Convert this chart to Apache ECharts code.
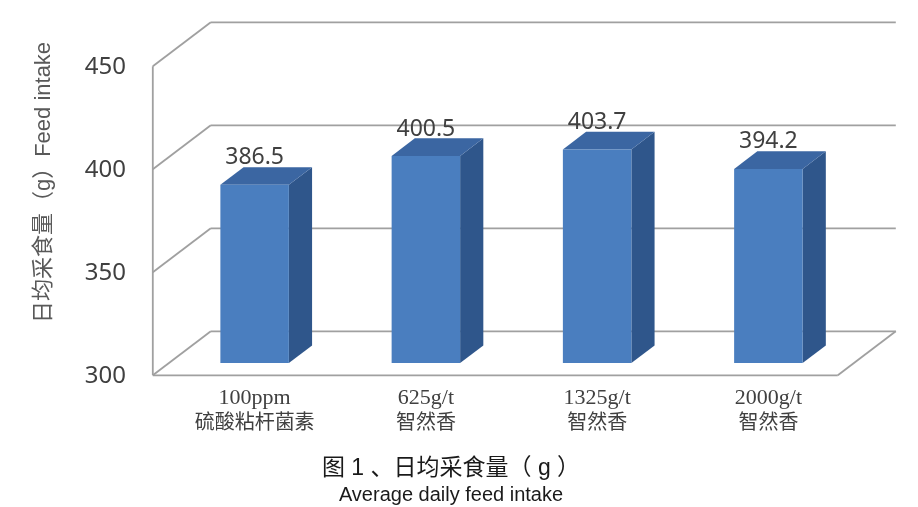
<!DOCTYPE html>
<html>
<head>
<meta charset="utf-8">
<script src="https://cdn.jsdelivr.net/npm/echarts@6/dist/echarts.min.js"></script>
<style>html,body{margin:0;padding:0;background:#fff;}#c{width:918px;height:507px;}</style>
</head>
<body>
<div id="c"></div>
<script>
const categories = ['100ppm\n硫酸粘杆菌素', '625g/t\n智然香', '1325g/t\n智然香', '2000g/t\n智然香'];
const values = [386.5, 400.5, 403.7, 394.2];
const yTicks = [300, 350, 400, 450];
const yMin = 300, yMax = 450, yStep = 50;

// 3D projection parameters (pixel offsets of depth)
const FRONT = [-16.2, 12.3];   // from bar plane to front plane
const BACK = [41.8, -31.7];    // from bar plane to back wall
const DEPTH = [23.2, -17.6];   // bar depth
const gridColor = '#a0a0a0';

const chart = echarts.init(document.getElementById('c'), null, {renderer: 'canvas'});

function line(x1, y1, x2, y2) {
  return {type: 'line', shape: {x1, y1, x2, y2}, style: {stroke: gridColor, lineWidth: 1.8}};
}

const option = {
  backgroundColor: '#ffffff',
  animation: false,
  title: {
    text: '图 1 、日均采食量（ g ）',
    subtext: 'Average daily feed intake',
    left: 451, top: 457, textAlign: 'center', padding: 0, itemGap: 5,
    textStyle: {fontFamily: 'Liberation Sans, Noto Sans CJK SC', fontSize: 23, fontWeight: 'normal', color: '#1a1a1a'},
    subtextStyle: {fontFamily: 'Liberation Sans, Noto Sans CJK SC', fontSize: 20, color: '#1a1a1a'}
  },
  grid: {left: 169, top: 54, width: 685, height: 309},
  xAxis: {
    type: 'category', data: categories,
    axisLine: {show: false}, axisTick: {show: false}, splitLine: {show: false},
    axisLabel: {
      margin: 24,
      formatter: function (v) { const p = v.split('\n'); return '{a|' + p[0] + '}\n{b|' + p[1] + '}'; },
      rich: {
        a: {fontFamily: 'Liberation Serif', fontSize: 22, lineHeight: 23, color: '#404040'},
        b: {fontFamily: 'Noto Sans CJK SC', fontSize: 20, lineHeight: 23, color: '#404040'}
      }
    }
  },
  yAxis: {
    type: 'value', min: yMin, max: yMax, interval: yStep,
    name: '日均采食量（g）Feed intake', nameLocation: 'middle', nameRotate: 90, nameGap: 114,
    nameTextStyle: {fontFamily: 'Liberation Sans, Noto Sans CJK SC', fontSize: 22, color: '#595959', padding: [0, 0, 0, 52]},
    axisLine: {show: false}, axisTick: {show: false}, splitLine: {show: false},
    axisLabel: {margin: 43, fontFamily: 'Noto Sans', fontSize: 24, lineHeight: 27, color: '#404040', verticalAlign: 'top'}
  },
  series: [
    {
      type: 'custom', z: 1, silent: true,
      data: yTicks.map(v => [0, v]),
      renderItem: function (params, api) {
        const cs = params.coordSys;
        const left = cs.x, right = cs.x + cs.width;
        const v = api.value(1);
        const y = api.coord([0, v])[1];
        const children = [
          line(left + BACK[0], y + BACK[1], right + BACK[0], y + BACK[1]),
          line(left + FRONT[0], y + FRONT[1], left + BACK[0], y + BACK[1])
        ];
        if (v === yMin) {
          const yTop = api.coord([0, yMax])[1];
          children.push(line(left + FRONT[0], y + FRONT[1], right + FRONT[0], y + FRONT[1]));
          children.push(line(right + FRONT[0], y + FRONT[1], right + BACK[0], y + BACK[1]));
          children.push(line(left + FRONT[0], yTop + FRONT[1], left + FRONT[0], y + FRONT[1]));
        }
        return {type: 'group', children};
      }
    },
    {
      type: 'custom', z: 5, silent: true,
      data: values.map((v, i) => [i, v]),
      renderItem: function (params, api) {
        const top = api.coord([api.value(0), api.value(1)]);
        const base = api.coord([api.value(0), yMin]);
        const bw = api.size([1, 0])[0] * 0.4;
        const x0 = top[0] - bw / 2, x1 = x0 + bw;
        const dx = DEPTH[0], dy = DEPTH[1];
        return {
          type: 'group',
          children: [
            {type: 'polygon', shape: {points: [[x1, top[1]], [x1 + dx, top[1] + dy], [x1 + dx, base[1] + dy], [x1, base[1]]]},
              style: {fill: '#2f568b'}},
            {type: 'polygon', shape: {points: [[x0, top[1]], [x0 + dx, top[1] + dy], [x1 + dx, top[1] + dy], [x1, top[1]]]},
              style: {fill: '#3b66a2'}},
            {type: 'rect', shape: {x: x0, y: top[1], width: bw, height: base[1] - top[1]},
              style: {fill: '#4a7ebf'}},
            {type: 'text', x: top[0], y: top[1] - 27,
              style: {text: api.value(1).toFixed(1), fontFamily: 'Noto Sans', fontSize: 23, fill: '#404040', align: 'center', verticalAlign: 'middle'}}
          ]
        };
      }
    }
  ]
};
chart.setOption(option);
</script>
</body>
</html>
